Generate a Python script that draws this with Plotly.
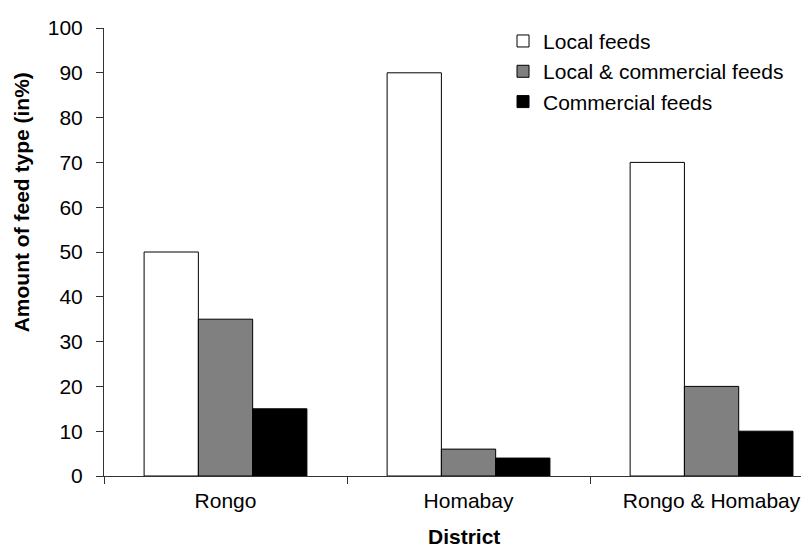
import plotly.graph_objects as go

districts = ["Rongo", "Homabay", "Rongo & Homabay"]
local_feeds = [50, 90, 70]
local_commercial = [35, 6, 20]
commercial_feeds = [15, 4, 10]
series_names = ["Local feeds", "Local & commercial feeds", "Commercial feeds"]
series_colors = ["#ffffff", "#808080", "#000000"]
y_ticks = [0, 10, 20, 30, 40, 50, 60, 70, 80, 90, 100]

fig = go.Figure()
for name, vals, col in zip(series_names, [local_feeds, local_commercial, commercial_feeds], series_colors):
    fig.add_trace(go.Bar(
        x=districts, y=vals, name=name,
        marker=dict(color=col, line=dict(color="#000000", width=1)),
    ))

font = "Liberation Sans, Arial, sans-serif"
fig.update_layout(
    width=809, height=550,
    margin=dict(l=96, r=8, t=16, b=82),
    paper_bgcolor="white", plot_bgcolor="white",
    barmode="group", bargap=0.33, bargroupgap=0,
    font=dict(family=font, size=21, color="#000000"),
    showlegend=True,
    legend=dict(x=0.566, y=1.016, xanchor="left", yanchor="top",
                bgcolor="rgba(0,0,0,0)", font=dict(size=21),
                tracegroupgap=0, itemwidth=30),
    xaxis=dict(
        range=[-0.5, 2.401], showline=True, linecolor="#333333", linewidth=1,
        ticks="outside", tickson="boundaries", ticklen=7, tickcolor="#333333",
        showgrid=False, ticklabelstandoff=6,
        tickfont=dict(size=21),
    ),
    yaxis=dict(
        range=[0, 100], tickvals=y_ticks, showline=True, linecolor="#333333",
        linewidth=1, ticks="outside", ticklen=7, tickcolor="#333333",
        showgrid=False, zeroline=False, ticklabelstandoff=9,
        tickfont=dict(size=21),
    ),
    annotations=[
        dict(text="<b>District</b>", xref="paper", yref="paper",
             x=0.511, y=-0.135, xanchor="center", yanchor="middle",
             showarrow=False, font=dict(size=21)),
        dict(text="<b>Amount of feed type (in%)</b>", xref="paper", yref="paper",
             x=-0.1177, y=0.611, xanchor="center", yanchor="middle",
             textangle=-90, showarrow=False, font=dict(size=21)),
    ],
)

fig.write_html("out.html")
